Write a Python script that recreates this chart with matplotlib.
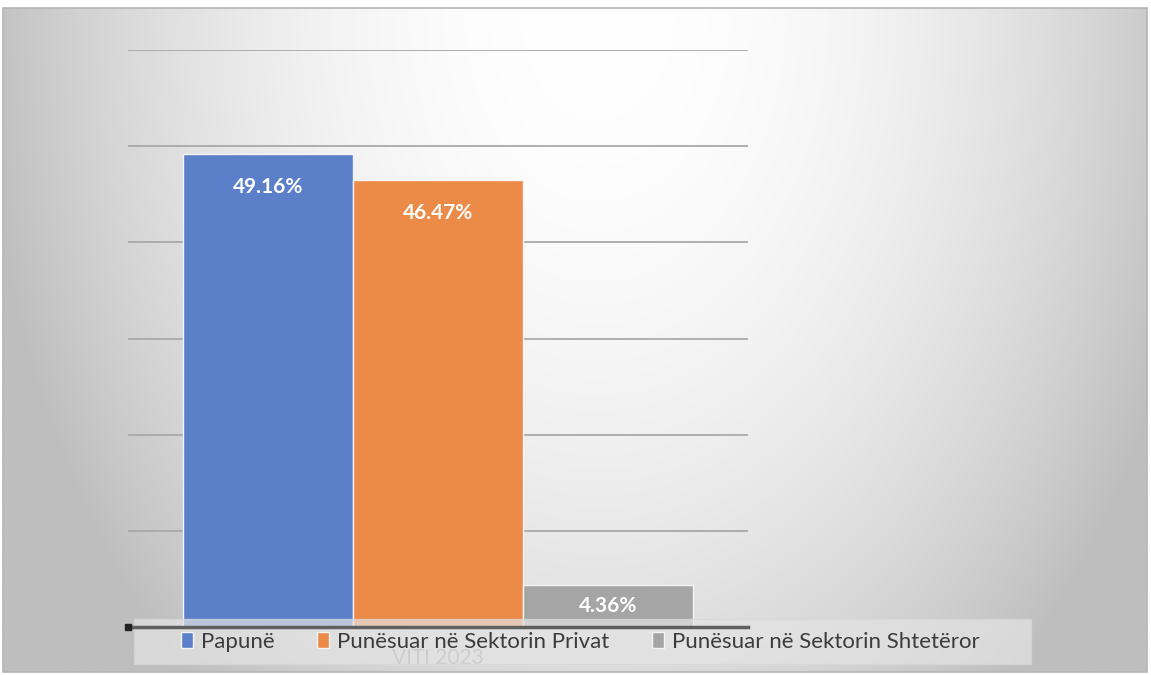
import numpy as np
import matplotlib.pyplot as plt
from matplotlib.patches import Rectangle

# data
categories = ["VITI 2023"]
series = ["Papunë", "Punësuar në Sektorin Privat", "Punësuar në Sektorin Shtetëror"]
values = [49.16, 46.47, 4.36]
colors = ["#5b80c9", "#ec8a48", "#a5a5a5"]
yticks = [0, 10, 20, 30, 40, 50, 60]

plt.rcParams['font.family'] = ['Lato', 'DejaVu Sans']

W, H = 1151, 675
fig = plt.figure(figsize=(W / 100, H / 100), dpi=100)

# gradient background, white at top centre, grey towards the edges
bg = fig.add_axes([3 / W, 3 / H, 1144 / W, 664 / H], zorder=0)
gx, gy = np.meshgrid(np.linspace(0, 1, 400), np.linspace(0, 1, 300))
nx = (gx - 0.52) / 0.5
r = np.sqrt(nx ** 2 + (gy * 0.8) ** 2)
shade = np.clip(255 - 55 * r ** 2, 190, 255) / 255
bg.imshow(np.dstack([shade] * 3), aspect='auto', extent=[0, 1, 0, 1], origin='upper')
bg.set_axis_off()
fig.patches.append(Rectangle((3 / W, 3 / H), 1144 / W, 664 / H, transform=fig.transFigure,
                             fill=False, edgecolor='#b5b5b5', lw=1.2, zorder=1))

ax = fig.add_axes([128 / W, 48 / H, 620 / W, 577 / H], zorder=2)
ax.patch.set_alpha(0)
ax.set_xlim(-0.5, 0.5)
ax.set_ylim(0, 60)

w = 0.274
for i, (name, v, c) in enumerate(zip(series, values, colors)):
    x = (i - 1) * w
    ax.bar(x, v, width=w, color=c, edgecolor='#f4f4f4', linewidth=1, label=name, zorder=3)
    ax.text(x, max(v - 3.4, v / 2), f"{v:.2f}%", ha='center', va='center',
            color='white', fontsize=15, fontweight='bold', zorder=4)

ax.set_yticks(yticks)
ax.set_yticklabels([])
ax.tick_params(axis='y', length=0)
ax.set_xticks([])
ax.yaxis.grid(True, color='#a9a9a9', lw=1.3, zorder=1)
ax.set_axisbelow(True)
for s in ['top', 'right', 'left']:
    ax.spines[s].set_visible(False)
ax.spines['bottom'].set_color('#5f5f5f')
ax.spines['bottom'].set_linewidth(2.5)
ax.spines['bottom'].set_zorder(5)
ax.plot(ax.get_xlim()[0], 0, marker='s', ms=4, color='#222222', clip_on=False, zorder=6)

# category label, sits behind the legend box
ax.text(438 / W, 1 - 658 / H, categories[0], transform=fig.transFigure, ha='center', va='center',
        fontsize=15, color='#9a9a9a', zorder=4.2, clip_on=False)

# legend box (under the axis line, over the bars)
ax.add_patch(Rectangle((134 / W, 1 - 664 / H), 897 / W, 45 / H, transform=fig.transFigure,
                       facecolor='#e4e4e4', edgecolor='#d8d8d8', alpha=0.7, lw=1,
                       zorder=4.5, clip_on=False))
leg = fig.legend(loc='center left', bbox_to_anchor=(181 / W, 1 - 642 / H), ncol=3, frameon=False,
                 fontsize=16, handlelength=0.55, handleheight=0.7, handletextpad=0.36,
                 columnspacing=1.9, borderpad=0, borderaxespad=0, labelcolor='#3c3c3c')
leg.set_zorder(7)

fig.savefig('out.png', dpi=100)
